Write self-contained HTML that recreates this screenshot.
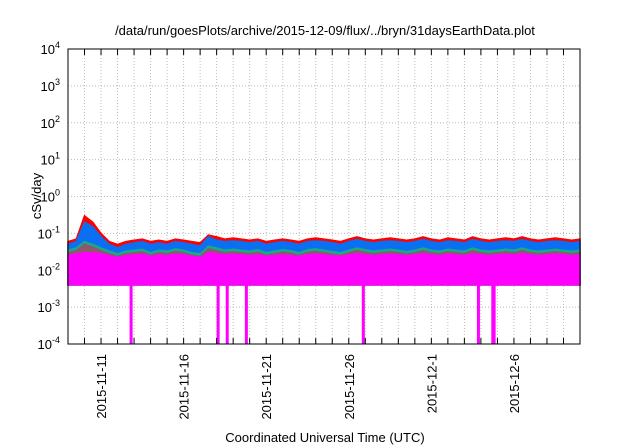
<!DOCTYPE html>
<html><head><meta charset="utf-8"><style>
body{margin:0;background:#fff}
svg{display:block;font-family:"Liberation Sans",sans-serif}
</style></head><body>
<svg id="c" width="640" height="448" xmlns="http://www.w3.org/2000/svg">
<text x="325" y="35" font-size="13" text-anchor="middle">/data/run/goesPlots/archive/2015-12-09/flux/../bryn/31daysEarthData.plot</text>
<text x="325" y="442" font-size="13" text-anchor="middle">Coordinated Universal Time (UTC)</text>
<text transform="translate(41,196) rotate(-90)" font-size="13" text-anchor="middle">cSv/day</text>
<g id="grid"></g><g id="series"></g><g id="axes"></g>
</svg>
<script>
const xTickLabels=["2015-11-11","2015-11-16","2015-11-21","2015-11-26","2015-12-1","2015-12-6"];
const xTickDays=[2,7,12,17,22,27];
const yTickExps=[-4,-3,-2,-1,0,1,2,3,4];
const redVals=[0.06,0.07,0.3,0.2,0.1,0.06,0.05,0.06,0.065,0.07,0.06,0.065,0.06,0.07,0.065,0.06,0.055,0.09,0.08,0.07,0.075,0.07,0.065,0.07,0.06,0.065,0.07,0.065,0.06,0.07,0.075,0.07,0.065,0.06,0.07,0.08,0.07,0.065,0.07,0.075,0.07,0.065,0.07,0.08,0.07,0.065,0.075,0.07,0.065,0.08,0.07,0.065,0.07,0.075,0.07,0.08,0.07,0.065,0.07,0.075,0.07,0.065,0.07];
const blueVals=[0.05,0.06,0.2,0.15,0.08,0.05,0.04,0.05,0.055,0.06,0.05,0.055,0.05,0.06,0.055,0.05,0.045,0.08,0.065,0.06,0.062,0.06,0.055,0.06,0.05,0.055,0.06,0.055,0.05,0.06,0.062,0.06,0.055,0.05,0.06,0.068,0.06,0.055,0.06,0.062,0.06,0.055,0.06,0.068,0.06,0.055,0.062,0.06,0.055,0.068,0.06,0.055,0.06,0.062,0.06,0.068,0.06,0.055,0.06,0.062,0.06,0.055,0.06];
const tealVals=[0.035,0.04,0.06,0.05,0.04,0.033,0.028,0.033,0.035,0.037,0.03,0.035,0.033,0.038,0.035,0.03,0.028,0.045,0.04,0.035,0.037,0.035,0.033,0.036,0.03,0.033,0.036,0.034,0.03,0.036,0.038,0.035,0.032,0.03,0.035,0.04,0.036,0.033,0.035,0.037,0.035,0.032,0.035,0.04,0.035,0.033,0.037,0.035,0.033,0.04,0.035,0.033,0.035,0.037,0.035,0.04,0.035,0.033,0.035,0.037,0.035,0.033,0.035];
const magTopVals=[0.025,0.028,0.03,0.03,0.028,0.025,0.022,0.025,0.026,0.027,0.024,0.026,0.025,0.027,0.026,0.024,0.022,0.03,0.028,0.026,0.027,0.026,0.025,0.026,0.024,0.025,0.026,0.025,0.024,0.026,0.027,0.026,0.025,0.024,0.026,0.028,0.026,0.025,0.026,0.027,0.026,0.025,0.026,0.028,0.026,0.025,0.027,0.026,0.025,0.028,0.026,0.025,0.026,0.027,0.026,0.028,0.026,0.025,0.026,0.027,0.026,0.025,0.026];
const magBottom=0.004;
const dropoutDays=[3.82,9.09,9.64,10.8,17.88,24.85,25.72,25.8];
const L=68,R=580,T=49,B=344,NDAYS=31;
const NS="http://www.w3.org/2000/svg";
const xs=d=>L+(R-L)*d/NDAYS;
const ys=v=>B-(Math.log10(v)+4)*(B-T)/8;
function mk(tag,attrs,parent){const e=document.createElementNS(NS,tag);for(const k in attrs)e.setAttribute(k,attrs[k]);parent.appendChild(e);return e;}
const grid=document.getElementById('grid'),ser=document.getElementById('series'),ax=document.getElementById('axes');
for(let d=1;d<NDAYS;d++){const g=mk('line',{x1:xs(d),x2:xs(d),y1:T,y2:B,stroke:'#bbb','stroke-dasharray':'1,2','stroke-width':1},grid);

}
yTickExps.forEach(e=>{const y=ys(Math.pow(10,e));
if(e>-4&&e<4){const g=mk('line',{x1:L,x2:R,y1:y,y2:y,stroke:'#bbb','stroke-dasharray':'1,2'},grid);

}
const t=mk('text',{x:L-8,y:y+5,'font-size':13,'text-anchor':'end'},ax);


t.innerHTML='10<tspan dy="-6" font-size="9">'+e+'</tspan>';});
function area(vals,lowFn,color,name){let p='';const n=vals.length;
for(let i=0;i<n;i++){const d=i*NDAYS/(n-1);p+=(i?'L':'M')+xs(d).toFixed(1)+','+ys(vals[i]).toFixed(1);}
for(let i=n-1;i>=0;i--){const d=i*NDAYS/(n-1);p+='L'+xs(d).toFixed(1)+','+lowFn(i).toFixed(1);}
const e=mk('path',{d:p+'Z',fill:color,stroke:color,'stroke-width':1.5},ser);

}
area(redVals,i=>ys(magBottom),'#ff0000','series-red');
area(blueVals,i=>ys(magBottom),'#0a6ff0','series-blue');
area(tealVals,i=>ys(magBottom),'#1aa890','series-teal');
area(tealVals.map(v=>v*0.85),i=>ys(magBottom),'#8a5a6a','series-brown');
area(magTopVals,i=>ys(magBottom),'#ff00ff','series-magenta');
dropoutDays.forEach(d=>{const r=mk('rect',{x:xs(d)-1.5,y:ys(magBottom),width:3,height:B-ys(magBottom),fill:'#ff00ff'},ser);

});
const fr=mk('rect',{x:L,y:T,width:R-L,height:B-T,fill:'none',stroke:'#000','stroke-width':1},ax);


for(let d=1;d<NDAYS;d++){mk('line',{x1:xs(d),x2:xs(d),y1:B,y2:B-6,stroke:'#000'},ax);mk('line',{x1:xs(d),x2:xs(d),y1:T,y2:T+6,stroke:'#000'},ax);}
xTickLabels.forEach((s,i)=>{const x=xs(xTickDays[i]);const t=mk('text',{transform:'translate('+(x+5)+',354) rotate(-90)','font-size':13,'text-anchor':'end'},ax);


t.textContent=s;});
</script>
</body></html>
